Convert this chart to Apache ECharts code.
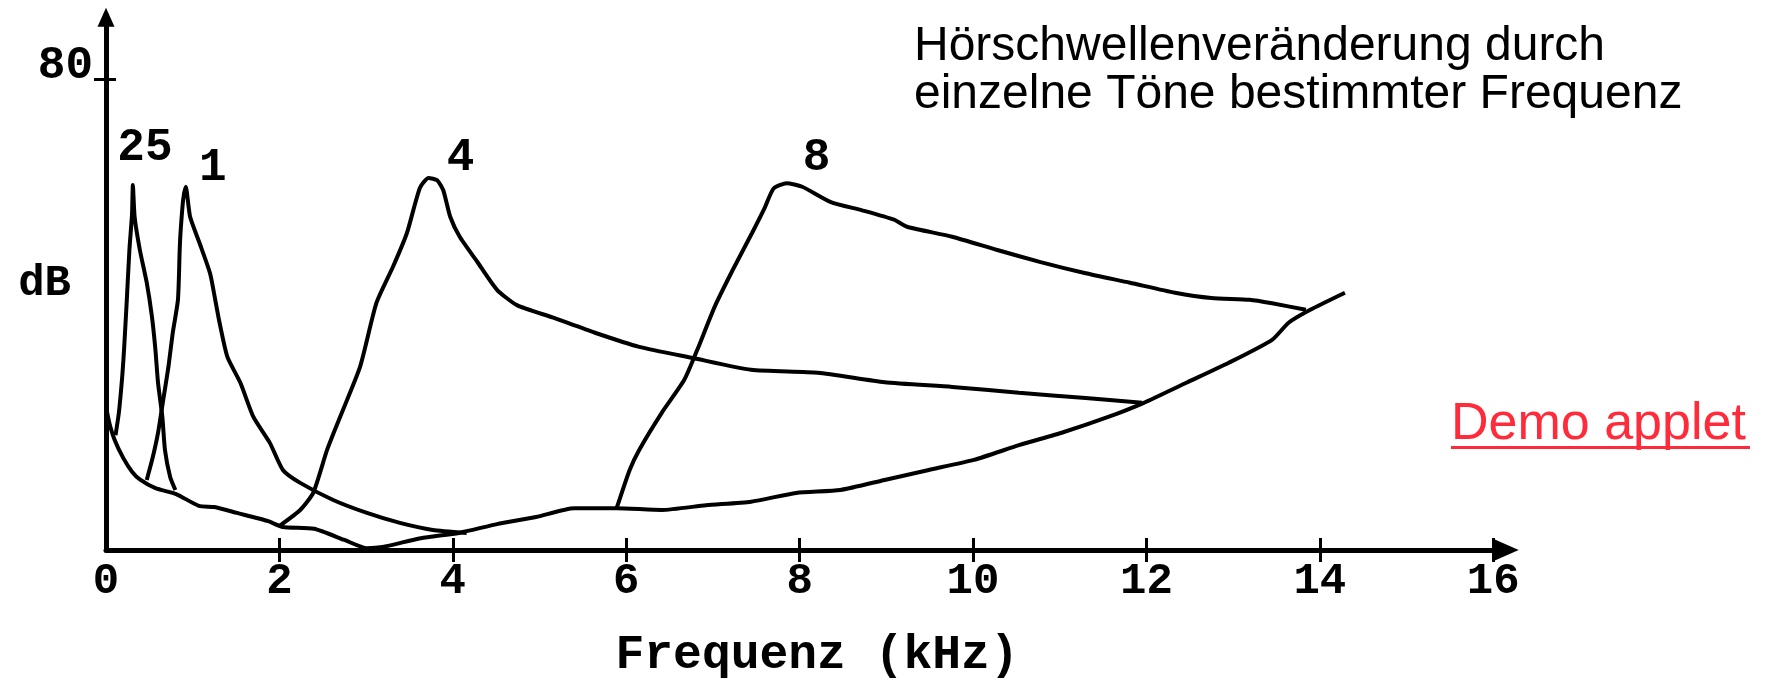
<!DOCTYPE html>
<html>
<head>
<meta charset="utf-8">
<script src="https://cdn.jsdelivr.net/npm/echarts@6/dist/echarts.min.js"></script>
<style>
  html, body { margin: 0; padding: 0; background: #fff; }
  #chart { width: 1773px; height: 681px; }
</style>
</head>
<body>
<div id="chart"></div>
<script>
// [kHz, dB]
const baseCurve = [
  [0, 24.3], [0.04, 21.5], [0.1, 18.7], [0.2, 15.6], [0.3, 13.3], [0.39, 12.0], [0.57, 10.5],
  [0.81, 9.5], [1.07, 7.5], [1.25, 7.3], [1.51, 6.3], [1.87, 4.9], [2.04, 3.9], [2.4, 3.6],
  [2.75, 1.7], [3.01, 0.3], [3.19, 0.5], [3.63, 2.0], [4.07, 2.9], [4.51, 4.4], [4.96, 5.6],
  [5.4, 7.1], [5.89, 7.1], [6.41, 6.8], [6.92, 7.6], [7.44, 8.2], [7.96, 9.7], [8.47, 10.2],
  [8.98, 11.9], [9.49, 13.6], [10.01, 15.3], [10.53, 17.8], [11.04, 20.0], [11.56, 22.6],
  [11.97, 25.0], [12.46, 28.4], [12.95, 31.8], [13.45, 35.7], [13.64, 38.6], [13.89, 40.8],
  [14.29, 43.7]
]
const tone250 = [
  [0.11, 19.5], [0.15, 23.5], [0.19, 30], [0.21, 34.5], [0.24, 42.5], [0.27, 51], [0.3, 57],
  [0.31, 62], [0.33, 56.6], [0.39, 51], [0.47, 45.4], [0.53, 39.6], [0.57, 34], [0.6, 28.4],
  [0.65, 22.6], [0.68, 17], [0.74, 12.4], [0.8, 10.2]
]
const tone1k = [
  [0.47, 11.9], [0.54, 15.8], [0.6, 19.9], [0.66, 25.5], [0.72, 31.1], [0.77, 36.9], [0.83, 42.5],
  [0.85, 51.0], [0.86, 54], [0.89, 59.5], [0.92, 61.7], [0.97, 56.6], [1.08, 52.1], [1.2, 47.0],
  [1.26, 42.5], [1.31, 38.6], [1.4, 32.8], [1.55, 28.4], [1.7, 22.6], [1.89, 18.2], [2.04, 13.6],
  [2.24, 11.4], [2.62, 8.5], [3.01, 6.3], [3.39, 4.6], [3.77, 3.4], [4.16, 2.9]
]
const tone4k = [
  [2.01, 4.2], [2.24, 6.8], [2.39, 9.7], [2.55, 17.0], [2.7, 22.6], [2.93, 31.1], [3.12, 42.0],
  [3.31, 48.1], [3.47, 53.8], [3.62, 61.5], [3.72, 63.2], [3.82, 62.8], [3.89, 61.1], [3.97, 56.6],
  [4.08, 53.2], [4.28, 49.0], [4.51, 44.2], [4.74, 41.6], [5.15, 39.5], [5.64, 36.9], [6.15, 34.5],
  [6.77, 32.6], [7.44, 30.6], [8.21, 30.1], [8.98, 28.5], [9.76, 27.7], [10.53, 26.7],
  [11.3, 25.8], [11.95, 25.0]
]
const tone8k = [
  [5.89, 7.1], [6.04, 13.6], [6.15, 17.0], [6.41, 23.3], [6.67, 28.9], [6.82, 34.0], [7.02, 41.3],
  [7.23, 47.6], [7.45, 53.8], [7.6, 58.2], [7.7, 61.4], [7.85, 62.3], [8.03, 61.7], [8.36, 59.1],
  [8.72, 57.7], [9.09, 56.1], [9.24, 54.9], [9.76, 53.2], [10.27, 51.0], [10.78, 48.9],
  [11.3, 47.0], [11.81, 45.4], [12.33, 43.7], [12.75, 42.8], [13.19, 42.5], [13.45, 41.9],
  [13.84, 40.8]
]
const peakNames = ['25', '1', '4', '8']
const xTicks = [0, 2, 4, 6, 8, 10, 12, 14, 16]
const yTicks = [80]

const mono = 'Liberation Mono, Courier New, monospace'
const sans = 'Liberation Sans, Helvetica, Arial, sans-serif'

const lineStyle = { color: '#000', width: 4 }

const curve = (data, name, offset) => {
  const s = {
    type: 'line',
    data: data,
    symbol: 'none',
    smooth: 0.2,
    lineStyle: lineStyle,
    silent: true
  }
  if (name) {
    s.markPoint = {
      symbol: 'circle',
      symbolSize: 1,
      itemStyle: { color: 'rgba(0,0,0,0)' },
      silent: true,
      data: [{ type: 'max', valueDim: 'y' }],
      label: {
        show: true,
        position: 'inside',
        offset: offset,
        formatter: name,
        fontFamily: mono,
        fontWeight: 'bold',
        fontSize: 46,
        lineHeight: 46,
        color: '#000'
      }
    }
  }
  return s
}

const chart = echarts.init(document.getElementById('chart'))
chart.setOption({
  animation: false,
  backgroundColor: '#fff',
  title: {
    text: 'Hörschwellenveränderung durch\neinzelne Töne bestimmter Frequenz',
    left: 914,
    top: 23,
    padding: 0,
    textStyle: {
      fontFamily: sans,
      fontWeight: 'normal',
      fontSize: 48,
      lineHeight: 48,
      color: '#000'
    }
  },
  grid: {
    left: 106,
    top: 17.2,
    width: 1400.2,
    height: 532.8,
    outerBoundsMode: 'none'
  },
  xAxis: [
    {
      type: 'value',
      min: 0,
      max: 16.15,
      interval: 2,
      name: 'Frequenz (kHz)',
      nameLocation: 'middle',
      nameGap: 82,
      nameMoveOverlap: false,
      nameTextStyle: {
        fontFamily: mono,
        fontWeight: 'bold',
        fontSize: 48,
        lineHeight: 48,
        color: '#000',
        padding: [0, 0, 0, 22]
      },
      axisLine: {
        show: true,
        symbol: ['none', 'triangle'],
        symbolSize: [22, 25],
        lineStyle: { color: '#000', width: 5 }
      },
      axisTick: {
        show: true,
        length: 12,
        customValues: xTicks.slice(1),
        lineStyle: { color: '#000', width: 3 }
      },
      axisLabel: {
        customValues: xTicks,
        margin: 10,
        fontFamily: mono,
        fontWeight: 'bold',
        fontSize: 44,
        lineHeight: 44,
        color: '#000'
      },
      splitLine: { show: false }
    },
    {
      type: 'value',
      position: 'bottom',
      min: 0,
      max: 16.15,
      interval: 2,
      axisLine: { show: false },
      axisTick: {
        show: true,
        inside: true,
        length: 12,
        customValues: xTicks.slice(1),
        lineStyle: { color: '#000', width: 3 }
      },
      axisLabel: { show: false },
      splitLine: { show: false }
    }
  ],
  yAxis: [
    {
      type: 'value',
      min: 0,
      max: 90.5,
      interval: 80,
      name: 'dB',
      nameLocation: 'middle',
      nameRotate: 0,
      nameGap: 35,
      nameMoveOverlap: false,
      nameTextStyle: {
        fontFamily: mono,
        fontWeight: 'bold',
        fontSize: 44,
        lineHeight: 44,
        color: '#000',
        padding: [0, 0, 10, 0]
      },
      axisLine: {
        show: true,
        symbol: ['none', 'triangle'],
        symbolSize: [17, 19],
        lineStyle: { color: '#000', width: 5 }
      },
      axisTick: {
        show: true,
        length: 12,
        customValues: yTicks,
        lineStyle: { color: '#000', width: 3 }
      },
      axisLabel: {
        customValues: yTicks,
        margin: 13,
        verticalAlign: 'bottom',
        fontFamily: mono,
        fontWeight: 'bold',
        fontSize: 46,
        lineHeight: 25,
        color: '#000'
      },
      splitLine: { show: false }
    },
    {
      type: 'value',
      position: 'left',
      min: 0,
      max: 90.5,
      interval: 80,
      axisLine: { show: false },
      axisTick: {
        show: true,
        inside: true,
        length: 10,
        customValues: yTicks,
        lineStyle: { color: '#000', width: 3 }
      },
      axisLabel: { show: false },
      splitLine: { show: false }
    }
  ],
  graphic: [
    {
      type: 'text',
      left: 1451,
      top: 399,
      style: {
        text: 'Demo applet',
        font: '52px Liberation Sans, Helvetica, Arial, sans-serif',
        fill: '#ff2b3b'
      }
    },
    {
      type: 'rect',
      left: 1451,
      top: 446,
      shape: { width: 299, height: 3 },
      style: { fill: '#ff2b3b' }
    }
  ],
  series: [
    curve(baseCurve),
    curve(tone250, peakNames[0], [12, -37]),
    curve(tone1k, peakNames[1], [27, -18]),
    curve(tone4k, peakNames[2], [32, -20]),
    curve(tone8k, peakNames[3], [30, -25])
  ]
})
</script>
</body>
</html>
